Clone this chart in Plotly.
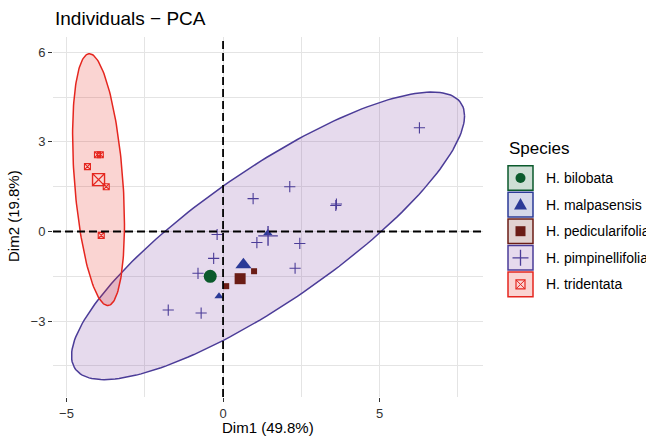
import numpy as np
import plotly.graph_objects as go

# ---------------- data ----------------
species = ["H. bilobata", "H. malpasensis", "H. pedicularifolia",
           "H. pimpinellifolia", "H. tridentata"]
line_colors = ["#0B5A2C", "#2B3A97", "#6B1D16", "#4B3C98", "#E5261F"]
fill_colors = ["rgba(11,90,44,0.2)", "rgba(43,58,151,0.2)", "rgba(107,29,22,0.2)",
               "rgba(128,70,165,0.2)", "rgba(229,38,31,0.2)"]
symbols = ["circle", "triangle-up", "square", "cross-thin-open", "square-x-open"]

bilobata_x = [-0.41]
bilobata_y = [-1.50]
malpasensis_x = [1.43, -0.13]
malpasensis_y = [-0.05, -2.17]
pedicularifolia_x = [0.99, 0.10]
pedicularifolia_y = [-1.33, -1.83]
pimpinellifolia_x = [6.27, 2.13, 0.96, 3.60, 3.62, -0.19, 1.08, 2.45, 2.30, -0.30, -0.80, -0.70, -1.75]
pimpinellifolia_y = [3.47, 1.50, 1.10, 0.87, 0.92, -0.10, -0.37, -0.40, -1.23, -0.90, -1.40, -2.73, -2.63]
tridentata_x = [-4.01, -3.92, -4.33, -3.73, -3.89]
tridentata_y = [2.57, 2.57, 2.17, 1.50, -0.13]

xs_all = [bilobata_x, malpasensis_x, pedicularifolia_x, pimpinellifolia_x, tridentata_x]
ys_all = [bilobata_y, malpasensis_y, pedicularifolia_y, pimpinellifolia_y, tridentata_y]

x_ticks = [-5, 0, 5]
y_ticks = [-3, 0, 3, 6]
x_range = [-5.43, 8.30]
y_range = [-5.54, 6.51]

small_sizes = [6, 8, 6, 8, 6]
big_sizes = [13, 14, 11, 14, 12]


def ellipse(xs, ys, level=0.95, n=200):
    pts = np.column_stack([xs, ys])
    c = pts.mean(axis=0)
    cov = np.cov(pts.T)
    dfd = len(xs) - 1
    qf = dfd / 2 * ((1 - level) ** (-2 / dfd) - 1)
    r = np.sqrt(2 * qf)
    L = np.linalg.cholesky(cov)
    t = np.linspace(0, 2 * np.pi, n)
    circ = np.column_stack([np.cos(t), np.sin(t)])
    e = c + r * circ @ L.T
    return e[:, 0], e[:, 1]


fig = go.Figure()

# ellipses
for i, sp in enumerate(species):
    if len(xs_all[i]) >= 3:
        ex, ey = ellipse(xs_all[i], ys_all[i])
        fig.add_trace(go.Scatter(x=ex, y=ey, mode="lines", fill="toself",
                                 fillcolor=fill_colors[i],
                                 line=dict(color=line_colors[i], width=1.5),
                                 hoverinfo="skip", showlegend=False))

# individual points
for i, sp in enumerate(species):
    lw = 1.1 if symbols[i].endswith("open") else 0
    fig.add_trace(go.Scatter(x=xs_all[i], y=ys_all[i], mode="markers", name=sp,
                             marker=dict(symbol=symbols[i], size=small_sizes[i],
                                         color=line_colors[i],
                                         line=dict(color=line_colors[i], width=lw)),
                             showlegend=False))

# centroids
for i, sp in enumerate(species):
    lw = 1.4 if symbols[i].endswith("open") else 0
    fig.add_trace(go.Scatter(x=[np.mean(xs_all[i])], y=[np.mean(ys_all[i])],
                             mode="markers",
                             marker=dict(symbol=symbols[i], size=big_sizes[i],
                                         color=line_colors[i],
                                         line=dict(color=line_colors[i], width=lw)),
                             showlegend=False, hoverinfo="skip"))

# dashed reference lines
fig.add_shape(type="line", xref="x", yref="paper", x0=0, x1=0, y0=0, y1=1,
              line=dict(color="black", width=1.8, dash="8px,4px"))
fig.add_shape(type="line", xref="paper", yref="y", x0=0, x1=1, y0=0, y1=0,
              line=dict(color="black", width=1.8, dash="8px,4px"))

# ---------------- layout ----------------
W, H = 646, 436
L, R, T, B = 53, 483, 37, 397
PW, PH = R - L, B - T


def px(x):
    return (x - L) / PW


def py(y):
    return (B - y) / PH


grid = "#E4E4E4"
fig.update_layout(
    width=W, height=H,
    margin=dict(l=L, r=W - R, t=T, b=H - B, autoexpand=False),
    paper_bgcolor="white", plot_bgcolor="white",
    font=dict(family="Liberation Sans, Arial, sans-serif", color="#1A1A1A"),
    showlegend=False,
    xaxis=dict(range=x_range, tickvals=x_ticks, showgrid=True, gridcolor=grid, gridwidth=1,
               zeroline=False, ticks="outside", ticklen=4, tickwidth=1.2, tickcolor="#333333",
               tickfont=dict(size=13, color="#333333"), showline=False,
               minor=dict(dtick=2.5, tick0=0, showgrid=True, gridcolor=grid, gridwidth=1, ticks="")),
    yaxis=dict(range=y_range, tickvals=y_ticks, showgrid=True, gridcolor=grid, gridwidth=1,
               zeroline=False, ticks="outside", ticklen=4, tickwidth=1.2, tickcolor="#333333",
               tickfont=dict(size=13, color="#333333"), showline=False,
               minor=dict(dtick=1.5, tick0=0, showgrid=True, gridcolor=grid, gridwidth=1, ticks="")),
)

annotations = [
    dict(text="Individuals − PCA", xref="paper", yref="paper", x=px(53), y=py(19),
         xanchor="left", yanchor="middle", showarrow=False, font=dict(size=19, color="black")),
    dict(text="Dim1 (49.8%)", xref="paper", yref="paper", x=px(268), y=py(427.5),
         xanchor="center", yanchor="middle", showarrow=False, font=dict(size=15, color="black")),
    dict(text="Dim2 (19.8%)", xref="paper", yref="paper", x=px(13), y=py(216),
         xanchor="center", yanchor="middle", showarrow=False, textangle=-90,
         font=dict(size=15, color="black")),
    dict(text="Species", xref="paper", yref="paper", x=px(507), y=py(148),
         xanchor="left", yanchor="middle", showarrow=False, font=dict(size=17, color="black")),
]

shapes = []
bx0, bx1 = 508, 533
cx = (bx0 + bx1) / 2
for i, sp in enumerate(species):
    cy = 178 + 26.6 * i
    col = line_colors[i]
    shapes.append(dict(type="rect", xref="paper", yref="paper",
                       x0=px(bx0), x1=px(bx1), y0=py(cy + 12.3), y1=py(cy - 12.3),
                       fillcolor=fill_colors[i], line=dict(color=col, width=1.5), layer="above"))
    if symbols[i] == "circle":
        shapes.append(dict(type="circle", xref="paper", yref="paper",
                           x0=px(cx - 5), x1=px(cx + 5), y0=py(cy + 5), y1=py(cy - 5),
                           fillcolor=col, line=dict(color=col, width=0)))
    elif symbols[i] == "triangle-up":
        path = f"M {px(cx-6.5)} {py(cy+5)} L {px(cx+6.5)} {py(cy+5)} L {px(cx)} {py(cy-6.5)} Z"
        shapes.append(dict(type="path", xref="paper", yref="paper", path=path,
                           fillcolor=col, line=dict(color=col, width=0)))
    elif symbols[i] == "square":
        shapes.append(dict(type="rect", xref="paper", yref="paper",
                           x0=px(cx - 5), x1=px(cx + 5), y0=py(cy + 5), y1=py(cy - 5),
                           fillcolor=col, line=dict(color=col, width=0)))
    elif symbols[i] == "cross-thin-open":
        path = (f"M {px(cx-8)} {py(cy)} L {px(cx+8)} {py(cy)} "
                f"M {px(cx)} {py(cy-8)} L {px(cx)} {py(cy+8)}")
        shapes.append(dict(type="path", xref="paper", yref="paper", path=path,
                           line=dict(color=col, width=1.3)))
    else:
        shapes.append(dict(type="rect", xref="paper", yref="paper",
                           x0=px(cx - 4.5), x1=px(cx + 4.5), y0=py(cy + 4.5), y1=py(cy - 4.5),
                           line=dict(color=col, width=1.2)))
        path = (f"M {px(cx-4.5)} {py(cy-4.5)} L {px(cx+4.5)} {py(cy+4.5)} "
                f"M {px(cx-4.5)} {py(cy+4.5)} L {px(cx+4.5)} {py(cy-4.5)}")
        shapes.append(dict(type="path", xref="paper", yref="paper", path=path,
                           line=dict(color=col, width=1)))
    annotations.append(dict(text=sp, xref="paper", yref="paper", x=px(544), y=py(cy),
                            xanchor="left", yanchor="middle", showarrow=False,
                            font=dict(size=14, color="black")))

for s in shapes:
    fig.add_shape(**s)
fig.update_layout(annotations=annotations)

fig.write_html("out.html",
               config={"displayModeBar": False},
               post_script=["document.body.style.margin='0px';"
                            "document.body.style.overflow='hidden';"])
